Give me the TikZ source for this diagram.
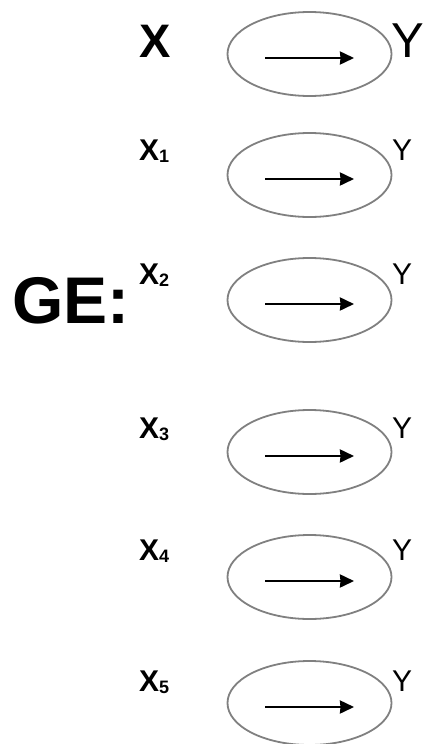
\documentclass[tikz,border=0pt]{standalone}
\usepackage{fontspec}
\setmainfont{Liberation Sans}
\usetikzlibrary{arrows.meta,shapes.geometric}

\tikzset{
  lens/.style={ellipse, draw=black!50, line width=1.8pt, minimum width=164pt, minimum height=84pt, inner sep=0pt},
  flow/.style={-{Stealth[length=14pt,width=13pt,inset=0.5pt]}, line width=2.4pt},
  lbl/.style={anchor=base west, inner sep=0pt},
}

\begin{document}
\begin{tikzpicture}[x=1pt,y=-1pt]
    \useasboundingbox (0,0) rectangle (423,744);

    % big label on the left
    \node[lbl, font=\bfseries\fontsize{66}{66}\selectfont] (ge) at (12,323) {GE:};

    % first row
    \node[lbl, font=\bfseries\fontsize{47}{47}\selectfont] (x0) at (139,57) {X};
    \node[lens] (e0) at (309.5,54) {};
    \node[lbl, font=\fontsize{49}{49}\selectfont] (y0) at (391,57) {Y};
    \coordinate (s0) at (265,58);
    \coordinate (t0) at (354,58);
    \draw[flow] (s0) -- (t0);

    % indexed rows
    \foreach \i/\ye/\yb in {1/175/160, 2/300/284, 3/452/438, 4/577/560, 5/703/691} {
        \node[lbl, font=\bfseries\fontsize{30}{30}\selectfont] (x\i) at (139,\yb)
            {X\raisebox{-2pt}{\fontsize{18}{18}\selectfont\i}};
        \node[lens] (e\i) at (309.5,\ye) {};
        \node[lbl, font=\fontsize{30}{30}\selectfont] (y\i) at (392,\yb) {Y};
        \coordinate (s\i) at (265,\ye+4);
        \coordinate (t\i) at (354,\ye+4);
        \draw[flow] (s\i) -- (t\i);
    }
\end{tikzpicture}
\end{document}
